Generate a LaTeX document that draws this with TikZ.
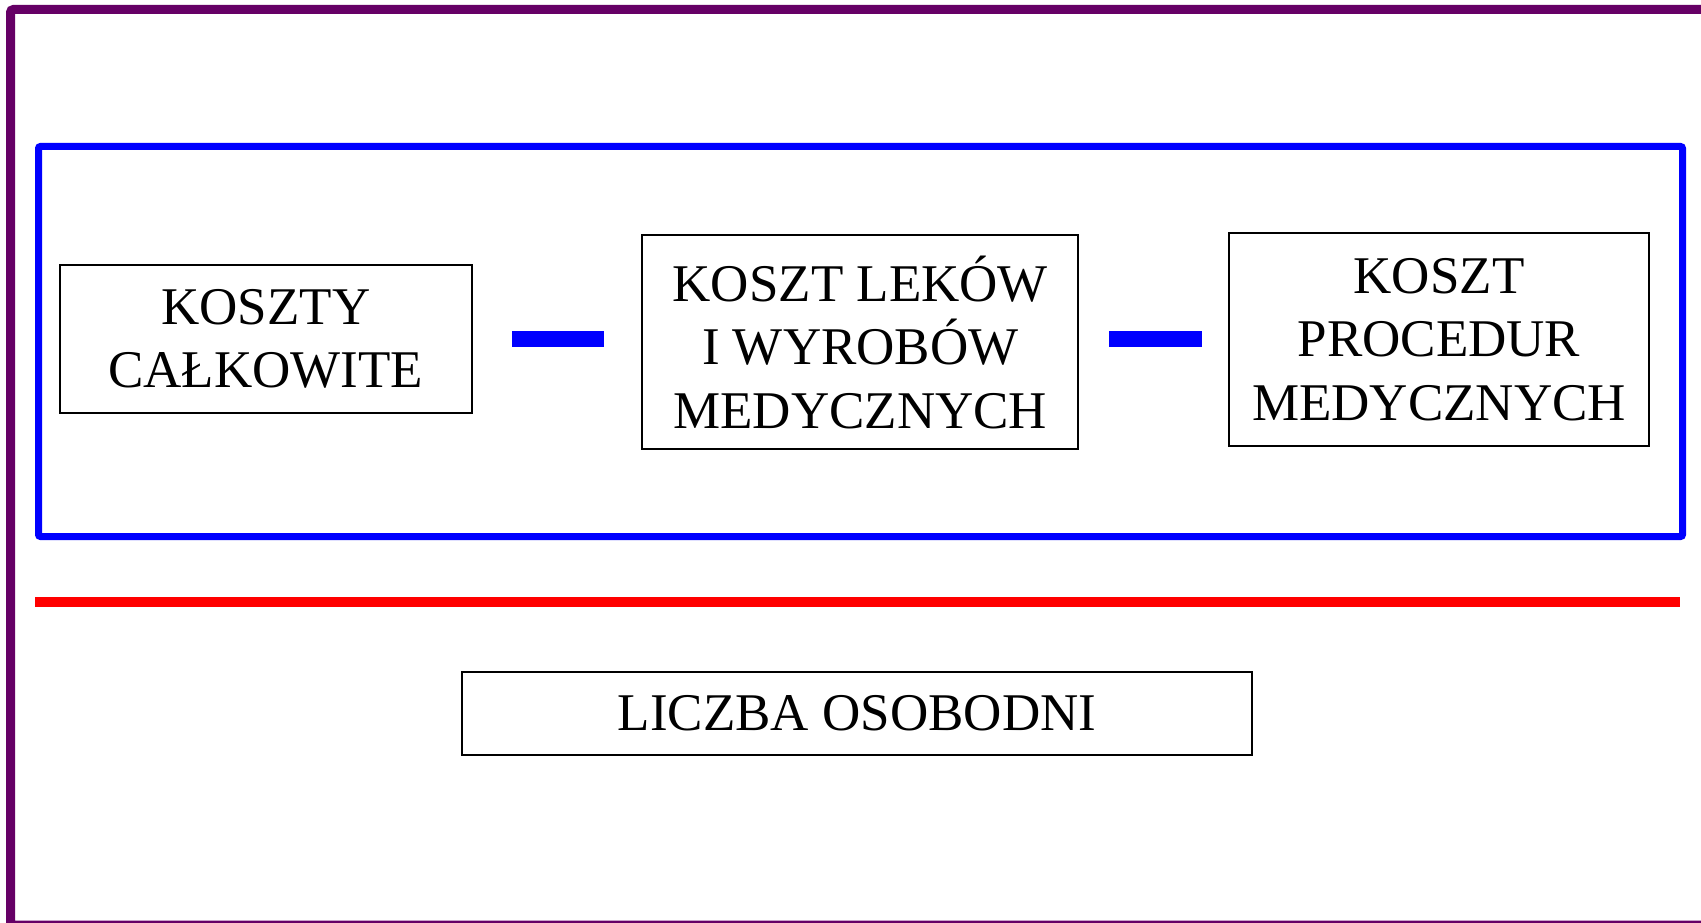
\documentclass[tikz,border=0pt]{standalone}
\usepackage{fontspec}
\setmainfont{Liberation Serif}
\definecolor{framepurple}{HTML}{660066}
\begin{document}
\begin{tikzpicture}[x=1pt,y=-1pt,
  box/.style={draw=black, line width=2pt, inner sep=0pt, align=center,
    font=\fontsize{53}{63.5}\selectfont},
  dashbar/.style={draw=blue, line width=16pt},
]
\useasboundingbox (0,0) rectangle (1701,923);
\clip (0,0) rectangle (1701,923);
\fill[white] (0,0) rectangle (1701,923);
% outer purple frame (runs off right and bottom)
\draw[framepurple, line width=9pt, rounded corners=3pt] (10.5,9.5) rectangle (1720,925);
% blue frame
\draw[blue, line width=7pt, rounded corners=2pt] (38.5,146.5) rectangle (1682.5,536.5);
% red rule
\coordinate (redL) at (35,602);
\coordinate (redR) at (1680,602);
\draw[red, line width=10pt] (redL) -- (redR);
% boxes
\node[box, minimum width=412pt, minimum height=148.6pt] (total) at (265.8,339)
  {KOSZTY\\CAŁKOWITE};
\node[box, minimum width=436pt, minimum height=213.7pt] (drugs) at (860.3,342.3)
  {KOSZT LEKÓW\\I WYROBÓW\\MEDYCZNYCH};
\node[box, minimum width=420pt, minimum height=212.7pt] (proc) at (1439,339.6)
  {KOSZT\\PROCEDUR\\MEDYCZNYCH};
\node[box, minimum width=790pt, minimum height=83.5pt] (days) at (857,713.3)
  {LICZBA OSOBODNI};
% minus signs
\coordinate (m1a) at (512,339);
\coordinate (m1b) at (604,339);
\coordinate (m2a) at (1109,339);
\coordinate (m2b) at (1202,339);
\draw[dashbar] (m1a) -- (m1b);
\draw[dashbar] (m2a) -- (m2b);
\end{tikzpicture}
\end{document}
